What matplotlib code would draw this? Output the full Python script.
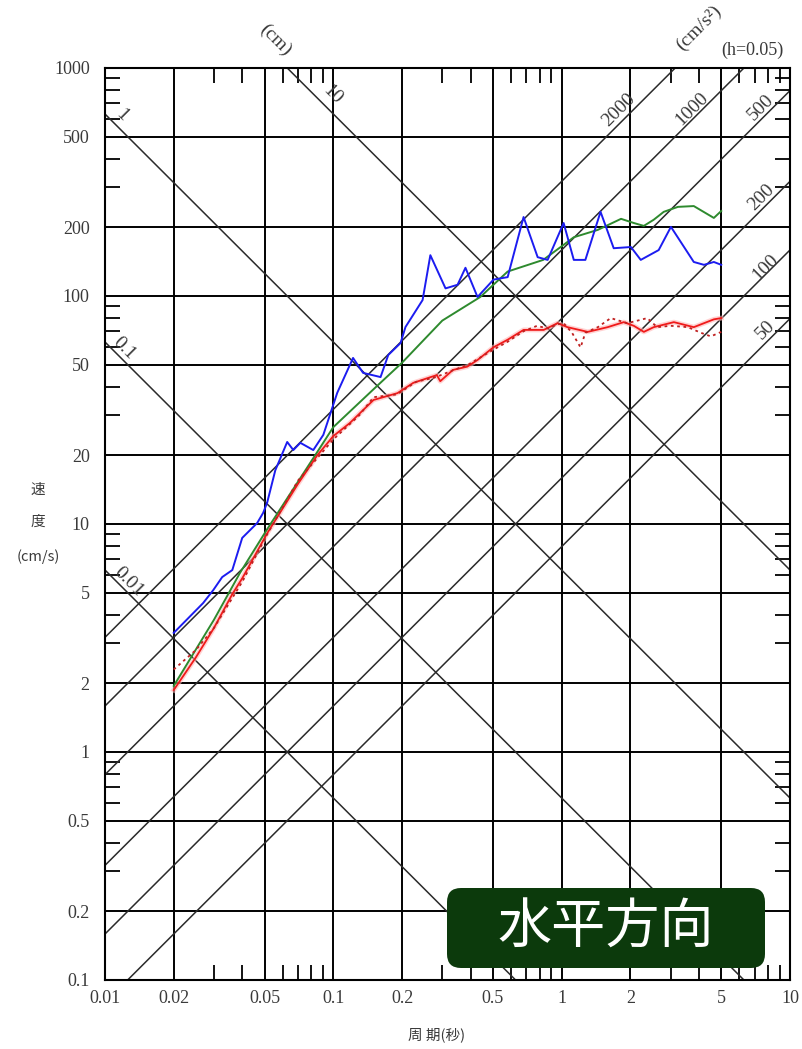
import numpy as np
import matplotlib
matplotlib.use('Agg')
import matplotlib.pyplot as plt
from matplotlib.patches import FancyBboxPatch

# axis ticks
x_major = [0.01, 0.02, 0.05, 0.1, 0.2, 0.5, 1, 2, 5, 10]
x_labels = ['0.01', '0.02', '0.05', '0.1', '0.2', '0.5', '1', '2', '5', '10']
y_major = [0.1, 0.2, 0.5, 1, 2, 5, 10, 20, 50, 100, 200, 500, 1000]
y_labels = ['0.1', '0.2', '0.5', '1', '2', '5', '10', '20', '50', '100', '200', '500', '1000']

# tripartite grid levels
disp_levels = [0.01, 0.1, 1, 10]            # cm
acc_levels = [50, 100, 200, 500, 1000, 2000]  # cm/s2

# spectra (period s, velocity cm/s)
blue_T = [0.02, 0.0269, 0.0298, 0.0326, 0.0361, 0.0399, 0.0464, 0.0493, 0.0513, 0.0557,
          0.0628, 0.0668, 0.0717, 0.0817, 0.0904, 0.095, 0.104, 0.122, 0.135, 0.161,
          0.174, 0.197, 0.207, 0.246, 0.266, 0.310, 0.350, 0.379, 0.428, 0.503,
          0.580, 0.681, 0.785, 0.868, 1.02, 1.13, 1.27, 1.48, 1.69, 2.01,
          2.22, 2.66, 3.01, 3.79, 4.20, 4.64, 5.0]
blue_SV = [3.33, 4.5, 5.13, 5.85, 6.28, 8.69, 10.1, 11.2, 12.4, 17.2,
           22.9, 21.1, 22.7, 21.1, 24.6, 28.6, 37.6, 53.5, 46, 44.1,
           55.1, 62.2, 73.1, 96, 151, 108, 112, 133, 99, 118,
           121, 222, 148, 144, 209, 144, 144, 234, 162, 164,
           144, 159, 201, 141, 137, 141, 137]

green_T = [0.02, 0.03, 0.039, 0.051, 0.07, 0.1, 0.15, 0.2, 0.3, 0.44, 0.58, 0.83,
           0.99, 1.13, 1.44, 1.82, 2.07, 2.29, 2.53, 2.8, 3.23, 3.79, 4.64, 5.0]
green_SV = [1.95, 3.8, 6.1, 9.4, 15.3, 26.6, 39, 51, 78, 99, 128, 144,
            164, 181, 195, 218, 209, 203, 216, 234, 246, 248, 220, 236]

red_T = [0.02, 0.025, 0.03, 0.036, 0.04, 0.0513, 0.07, 0.085, 0.1, 0.118, 0.15, 0.191,
         0.224, 0.284, 0.294, 0.334, 0.386, 0.428, 0.503, 0.580, 0.681, 0.834, 0.96,
         1.06, 1.30, 1.59, 1.87, 2.07, 2.29, 2.53, 3.10, 3.79, 4.64, 5.0]
red_SV = [1.87, 2.6, 3.5, 4.9, 5.8, 9.1, 15, 20, 24.3, 27.7, 35, 37.5,
          41.6, 45, 42.3, 47.4, 49, 52.4, 59.6, 64.3, 71, 71, 76,
          73, 69.6, 73, 76.8, 74, 69.6, 73, 76.8, 73, 79, 80]

dot_T = [0.02, 0.025, 0.03, 0.04, 0.0513, 0.07, 0.1, 0.13, 0.15, 0.19, 0.23, 0.28,
         0.33, 0.39, 0.43, 0.5, 0.58, 0.68, 0.78, 0.87, 0.95, 1.02, 1.11, 1.21,
         1.27, 1.44, 1.64, 1.94, 2.15, 2.37, 2.62, 3.0, 3.57, 4.07, 4.5, 5.0]
dot_SV = [2.3, 2.8, 3.5, 5.6, 9.0, 15.5, 23.5, 30, 36, 37, 42, 44,
          47, 50, 53, 58, 63, 70, 74, 72, 75, 76, 69, 59.5,
          69, 73, 80, 76, 78, 80, 73, 74, 73, 69, 66.5, 69.6]

serif = 'Liberation Serif'
jp = ['Noto Sans CJK JP', 'DejaVu Sans']
txt_col = '#3a3a3a'

W, H = 803, 1049
fig = plt.figure(figsize=(W / 100, H / 100), dpi=100)
ax = fig.add_axes([105 / W, 69 / H, 685 / W, 912 / H])
ax.set_xscale('log')
ax.set_yscale('log')
ax.set_xlim(0.01, 10)
ax.set_ylim(0.1, 1000)

ax.set_xticks(x_major)
ax.set_xticklabels(x_labels)
ax.set_yticks(y_major)
ax.set_yticklabels(y_labels)
ax.set_xticks([m * 10.0 ** e for e in (-2, -1, 0) for m in (3, 4, 6, 7, 8, 9)], minor=True)
ax.set_yticks([m * 10.0 ** e for e in (-1, 0, 1, 2) for m in (3, 4, 6, 7, 8, 9)], minor=True)
ax.xaxis.set_minor_formatter(plt.NullFormatter())
ax.yaxis.set_minor_formatter(plt.NullFormatter())
ax.tick_params(which='major', length=0, labelsize=13, labelcolor=txt_col)
ax.tick_params(axis='x', which='major', pad=7)
ax.tick_params(axis='y', which='major', pad=11)
ax.tick_params(which='minor', direction='in', length=11, width=1.3, color='black',
               top=True, right=True)
for lab in ax.get_xticklabels() + ax.get_yticklabels():
    lab.set_fontfamily(serif)
ax.grid(True, which='major', color='black', lw=1.4)
for s in ax.spines.values():
    s.set_linewidth(1.5)

# tripartite diagonals
T = np.logspace(-2, 1, 300)
for d in disp_levels:
    ax.plot(T, 2 * np.pi * d / T, color='#2a2a2a', lw=1.1)
for a in acc_levels:
    ax.plot(T, a * T / (2 * np.pi), color='#2a2a2a', lw=1.1)

# diagonal labels
lab_kw = dict(fontsize=14, color=txt_col, family=serif, ha='center', va='center',
              rotation_mode='anchor')
for s, (tx, ty) in zip(['1', '0.1', '0.01', '10'],
                       [(0.0119, 622), (0.0121, 59), (0.0127, 5.6), (0.099, 761)]):
    ax.text(tx, ty, s, rotation=-45, **lab_kw)
for s, (tx, ty) in zip(['2000', '1000', '500', '200', '100', '50'],
                       [(1.78, 655), (3.72, 661), (7.47, 668), (7.47, 271), (7.78, 134), (7.78, 71)]):
    ax.text(tx, ty, s, rotation=45, **lab_kw)

ax.text(0.0557, 1330, '(cm)', rotation=-45, clip_on=False, **lab_kw)
ax.text(3.97, 1500, '(cm/s²)', rotation=45, clip_on=False, **lab_kw)
fig.text(752 / W, 1 - 50 / H, '(h=0.05)', fontsize=13, color=txt_col, family=serif,
         ha='center', va='center')

# spectra
ax.plot(red_T, red_SV, color='#ffb4b4', lw=3.5, alpha=0.6)
ax.plot(green_T, green_SV, color='#2e8a2e', lw=1.4)
ax.plot(blue_T, blue_SV, color='#1c1cf0', lw=1.4)
ax.plot(red_T, red_SV, color='#f01a1a', lw=1.3)
ax.plot(dot_T, dot_SV, color='#c02020', lw=1.3, ls=(0, (1.5, 2)))

# axis titles
for s, yy in [('速', 490), ('度', 522), ('(cm/s)', 557)]:
    fig.text(38 / W, 1 - yy / H, s, fontsize=10.5, color=txt_col, family=jp,
             ha='center', va='center')
fig.text(437 / W, 1 - 1035 / H, '周 期(秒)', fontsize=10.5, color=txt_col, family=jp,
         ha='center', va='center')

# label box
box = FancyBboxPatch((447, H - 968), 318, 80, boxstyle='round,pad=0,rounding_size=14',
                     transform=None, facecolor='#0c3a0c', edgecolor='none', zorder=5)
fig.patches.append(box)
fig.text(606 / W, 1 - 928 / H, '水平方向', fontsize=39, color='white', family=jp,
         ha='center', va='center', zorder=6)

fig.savefig('out.png', dpi=100)
